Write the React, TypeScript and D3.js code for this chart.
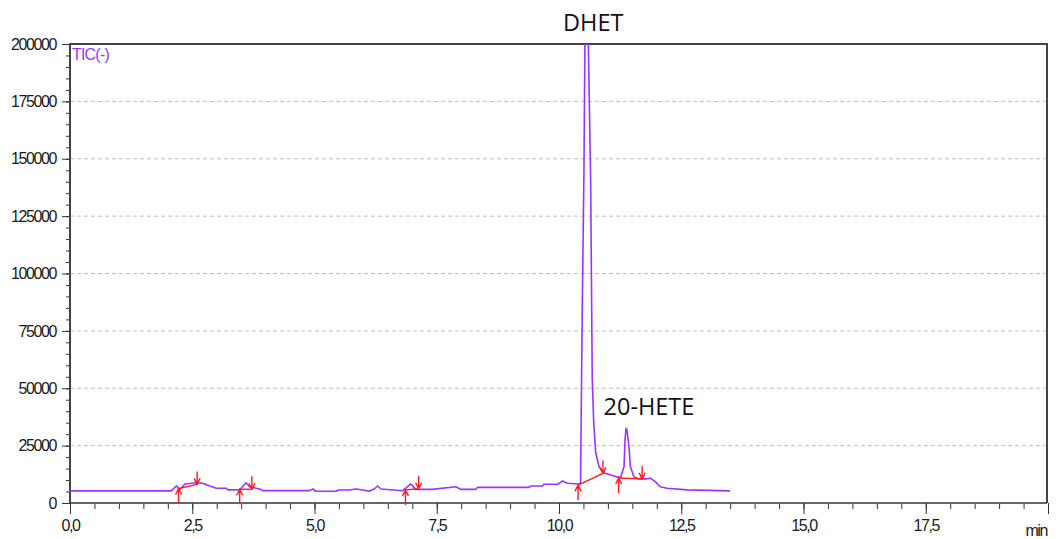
import React, { useRef, useEffect } from "react"
import * as d3 from "d3"

// TIC trace (time in min, intensity)
const traceTime = [
  0, 2.07, 2.18, 2.24, 2.35, 2.58, 2.72, 2.86, 2.99, 3.2, 3.23, 3.47, 3.6, 3.67, 3.88, 3.94,
  4.9, 4.97, 5.03, 5.44, 5.48, 5.71, 5.85, 5.99, 6.12, 6.22, 6.29, 6.36, 6.8, 6.97, 7.07,
  7.41, 7.89, 7.99, 8.3, 8.33, 9.39, 9.42, 9.66, 9.69, 9.97, 10.07, 10.17, 10.41,
  10.44, 10.476, 10.51, 10.53, 10.56, 10.61, 10.647, 10.68, 10.71, 10.75, 10.82, 10.92, 11.16, 11.26,
  11.33, 11.35, 11.37, 11.39, 11.43, 11.46, 11.53, 11.63, 11.77, 11.87, 11.97, 12.07, 12.21, 12.62, 13.5,
]
const traceTic = [
  5300, 5300, 7500, 5700, 8300, 8850, 8600, 7400, 6400, 6400, 5700, 5800, 8800, 7100, 6100, 5400,
  5400, 6100, 5100, 5100, 5650, 5650, 6100, 5650, 5100, 6100, 7400, 6100, 5350, 8300, 5950,
  5950, 7100, 5950, 5950, 6800, 6800, 7400, 7400, 8150, 8150, 9600, 8600, 8300,
  8500, 85000, 144000, 200000, 260000, 187000, 141000, 54000, 35000, 22000, 15700, 13100, 11500, 11200,
  15800, 27500, 32500, 31800, 24500, 15800, 11500, 10500, 10500, 10800, 9300, 7100, 6400, 5700, 5300,
]

// integration marks (start / end of each peak baseline)
const peakStartTime = [2.22, 3.47, 6.86, 10.39, 11.22]
const peakStartTic = [6300, 6000, 5700, 7800, 10900]
const peakEndTime = [2.6, 3.72, 7.13, 10.9, 11.7]
const peakEndTic = [8100, 6000, 6200, 12900, 10500]

const labelText = ["20-HETE"]
const labelTime = [11.84]
const labelTic = [38300]

const yTicks = [0, 25000, 50000, 75000, 100000, 125000, 150000, 175000, 200000]
const xTicks = [0, 2.5, 5, 7.5, 10, 12.5, 15, 17.5, 20]

const purple = "#9933ff"
const red = "#ff1a1a"
const axisFont = "'Liberation Sans', Arial, sans-serif"

const Chromatogram = () => {
  const element = useRef(null)

  useEffect(() => {
    document.body.style.margin = "0"
    const width = 1056, height = 539
    const margin = { top: 44, right: 8, bottom: 36, left: 70 }

    const svg = d3.select(element.current)
      .append("svg")
      .attr("width", width)
      .attr("height", height)
      .style("display", "block")

    const x = d3.scaleLinear().domain([0, 20]).range([margin.left, width - margin.right])
    const y = d3.scaleLinear().domain([0, 200000]).range([height - margin.bottom, margin.top])
    const x0 = x(0), x1 = x(20) - 1, y0 = y(0), y1 = y(200000)

    const styleLabels = g => g.selectAll("text")
      .attr("font-family", axisFont).attr("font-size", 16)
      .attr("letter-spacing", -1.4).attr("fill", "#1a1a1a")

    // grid
    svg.append("g")
      .selectAll("line")
      .data(yTicks.filter(d => d > 0 && d < 200000))
      .enter().append("line")
      .attr("x1", x0).attr("x2", x1)
      .attr("y1", d => y(d)).attr("y2", d => y(d))
      .attr("stroke", "#bdbdbd")
      .attr("stroke-dasharray", "4,3")

    // y axis minor + major
    svg.append("g")
      .attr("transform", `translate(${x0},0)`)
      .call(d3.axisLeft(y).tickValues(d3.range(0, 200001, 5000)).tickSize(4).tickFormat(() => ""))
      .call(g => g.select(".domain").remove())
      .call(g => g.selectAll("line").attr("stroke", "#333"))
    svg.append("g")
      .attr("transform", `translate(${x0},0)`)
      .call(d3.axisLeft(y).tickValues(yTicks).tickSize(8).tickPadding(6).tickFormat(d3.format("d")))
      .call(g => g.select(".domain").remove())
      .call(g => g.selectAll("line").attr("stroke", "#333"))
      .call(styleLabels)

    // x axis minor + major
    svg.append("g")
      .attr("transform", `translate(0,${y0 + 1})`)
      .call(d3.axisBottom(x).tickValues(d3.range(0, 20.01, 0.5)).tickSize(5).tickFormat(() => ""))
      .call(g => g.select(".domain").remove())
      .call(g => g.selectAll("line").attr("stroke", "#333"))
    svg.append("g")
      .attr("transform", `translate(0,${y0})`)
      .call(d3.axisBottom(x).tickValues(xTicks).tickSize(11).tickPadding(6)
        .tickFormat(d => d === 20 ? "" : d.toFixed(1).replace(".", ",")))
      .call(g => g.select(".domain").remove())
      .call(g => g.selectAll("line").attr("stroke", "#333"))
      .call(styleLabels)

    svg.append("text")
      .attr("x", x1).attr("y", y0 + 33)
      .attr("text-anchor", "end")
      .attr("font-family", axisFont).attr("font-size", 16)
      .attr("letter-spacing", -1.4).attr("fill", "#1a1a1a")
      .text("min")

    // frame
    svg.append("path")
      .attr("d", `M${x0},${y0}V${y1}H${x1}V${y0}`)
      .attr("fill", "none").attr("stroke", "#444").attr("stroke-width", 2)
    svg.append("line")
      .attr("x1", x0).attr("x2", x1).attr("y1", y0).attr("y2", y0)
      .attr("stroke", "#333").attr("stroke-width", 1.5)

    svg.append("clipPath").attr("id", "plot-clip")
      .append("rect").attr("x", x0).attr("y", y1).attr("width", x1 - x0).attr("height", y0 - y1)

    // trace
    const line = d3.line<number>()
      .x(i => x(traceTime[i]))
      .y(i => y(traceTic[i]))
    svg.append("path")
      .attr("clip-path", "url(#plot-clip)")
      .attr("d", line(d3.range(traceTime.length)))
      .attr("fill", "none")
      .attr("stroke", purple)
      .attr("stroke-width", 1.6)
      .attr("stroke-linejoin", "round")

    // integration baselines and arrows
    const marks = svg.append("g").attr("stroke", red).attr("stroke-width", 1.4).attr("fill", "none")
    peakStartTime.forEach((t, i) => {
      const sx = x(t), sy = y(peakStartTic[i])
      const ex = x(peakEndTime[i]), ey = y(peakEndTic[i])
      marks.append("line").attr("x1", sx).attr("y1", sy).attr("x2", ex).attr("y2", ey)
      marks.append("path").attr("d", `M${sx},${sy + 15}V${sy}M${sx - 3},${sy + 6}L${sx},${sy}L${sx + 3},${sy + 6}`)
      marks.append("path").attr("d", `M${ex},${ey - 13}V${ey}M${ex - 3},${ey - 6}L${ex},${ey}L${ex + 3},${ey - 6}`)
    })

    svg.append("text")
      .attr("x", x0 + 2).attr("y", y1 + 16)
      .attr("font-family", axisFont).attr("font-size", 16)
      .attr("letter-spacing", -0.8)
      .attr("fill", purple)
      .text("TIC(-)")

    // compound labels
    svg.append("text")
      .attr("x", x(10.7)).attr("y", y1 - 13)
      .attr("text-anchor", "middle")
      .attr("font-family", "'Open Sans', sans-serif").attr("font-size", 23.5).attr("fill", "#111")
      .text("DHET")
    labelText.forEach((s, i) => {
      svg.append("text")
        .attr("x", x(labelTime[i])).attr("y", y(labelTic[i]))
        .attr("text-anchor", "middle")
        .attr("font-family", "'Open Sans', sans-serif").attr("font-size", 23.5).attr("fill", "#111")
        .text(s)
    })

    return () => {
      if (element.current) element.current.innerHTML = ""
    }
  }, [])

  return <div ref={element}></div>
}

export default function App() {
  return <Chromatogram />
}
